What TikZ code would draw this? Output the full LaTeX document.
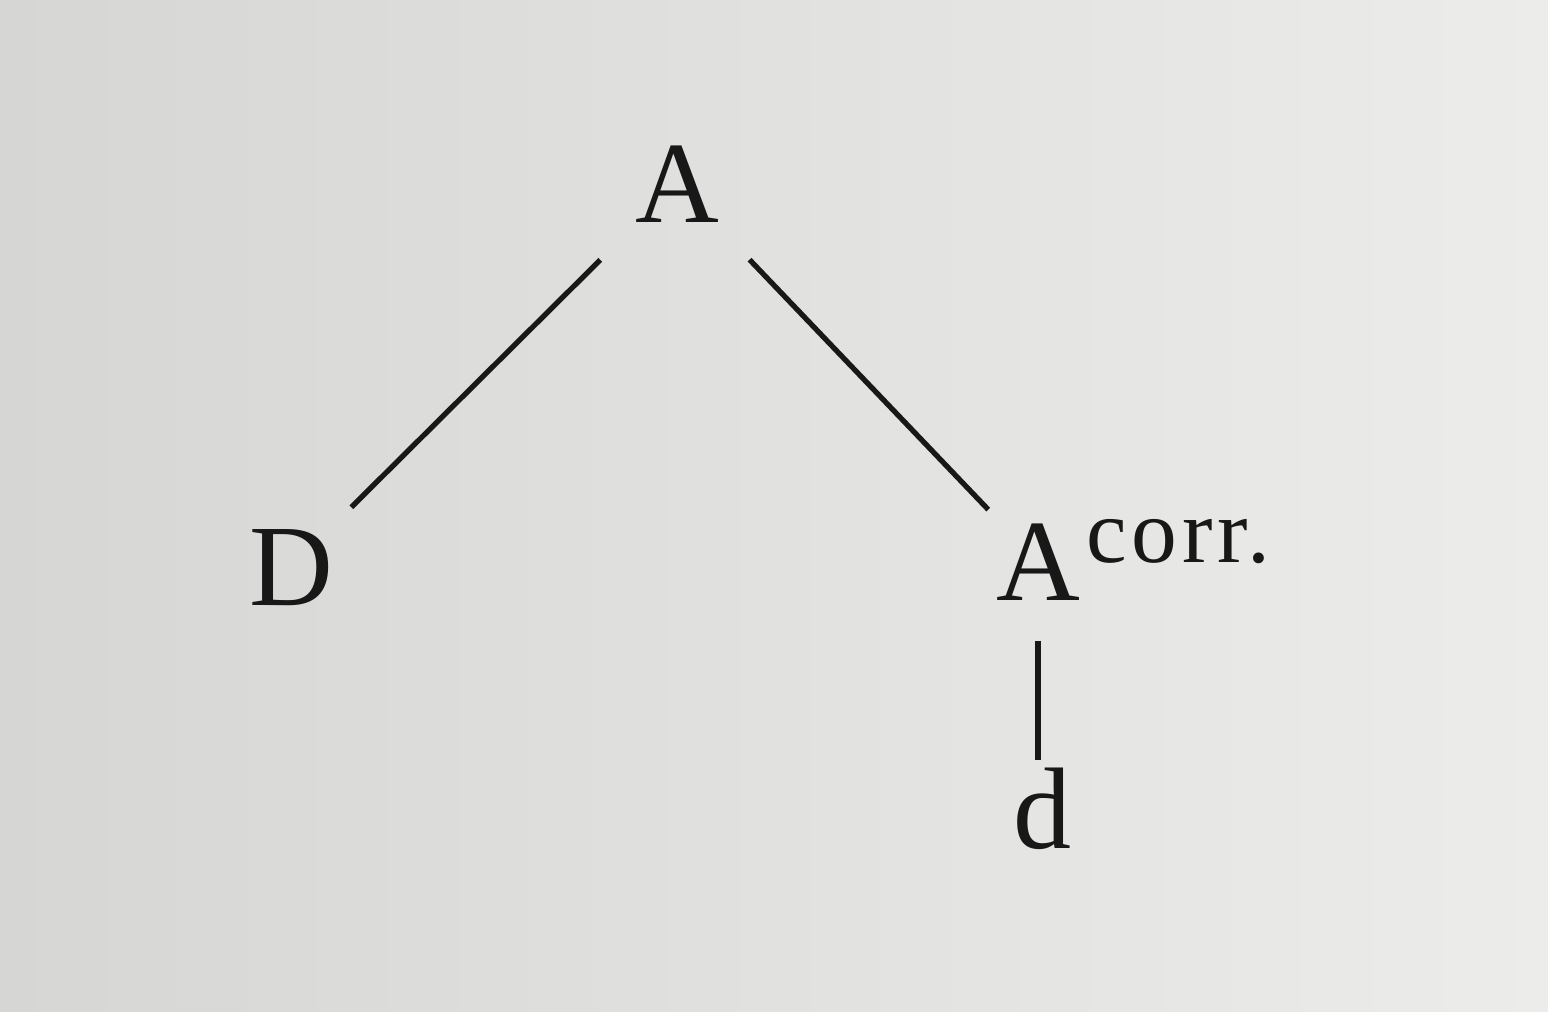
\documentclass[tikz,border=0pt]{standalone}
\usepackage{fontspec}
\setmainfont{Liberation Serif}
\definecolor{paperL}{RGB}{214,215,212}
\definecolor{paperR}{RGB}{236,237,234}
\definecolor{ink}{RGB}{24,24,24}
\tikzset{
  lbl/.style={inner sep=0pt, anchor=base, text=ink, font=\fontsize{33}{36}\selectfont},
  sup/.style={inner sep=0pt, anchor=base west, text=ink, font=\fontsize{26}{28}\selectfont\addfontfeatures{LetterSpace=5}},
  edge/.style={draw=ink, line width=1.5pt}
}
\begin{document}
\begin{tikzpicture}[x=0.01cm, y=-0.01cm]
\shade[left color=paperL, right color=paperR] (0,0) rectangle (1548,1012);
\useasboundingbox (0,0) rectangle (1548,1012);
\node[lbl] (top) at (677,222) {A};
\node[lbl] (D) at (291,605) {D};
\node[lbl] (Ac) at (1038,600) {A};
\node[sup] (corr) at (1086,562) {corr.};
\node[lbl] (d) at (1043,848) {d};
\draw[edge, shorten <=1.08cm, shorten >=0.85cm] (top.center) -- (D.center);
\draw[edge, shorten <=1.05cm, shorten >=0.72cm] (top.center) -- (Ac.center);
\draw[edge, shorten <=0.4cm, shorten >=0.07cm] (Ac.south) -- (Ac.south |- d.north);
\end{tikzpicture}
\end{document}
